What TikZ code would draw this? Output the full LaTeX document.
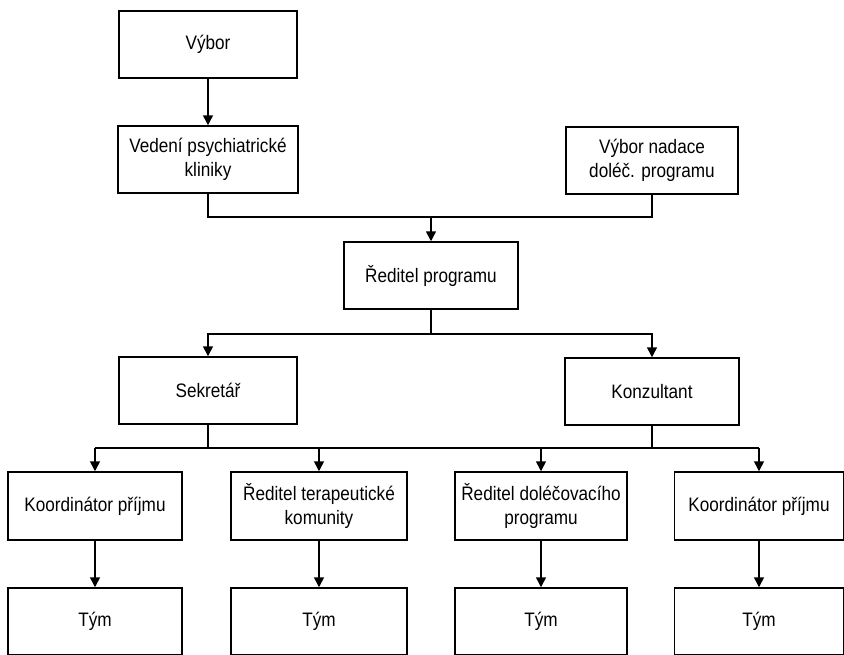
\documentclass[tikz,border=0pt]{standalone}
\usepackage{fontspec}
\setmainfont[FakeStretch=0.88]{Liberation Sans}
\usetikzlibrary{arrows.meta}
\begin{document}
\begin{tikzpicture}[x=1pt,y=-1pt,
  box/.style={draw, line width=1.5pt, minimum height=67pt, inner sep=0pt,
    align=center, font=\fontsize{19.5}{24.5}\selectfont},
  link/.style={line width=1.5pt},
  arr/.style={link, -{Triangle[length=10pt,width=10pt]}}]
\useasboundingbox (0,0) rectangle (844,654);

% top levels
\node[box, minimum width=178pt] (vybor)   at (208,44.5)  {Výbor};
\node[box, minimum width=180pt] (vedeni)  at (208,159.5) {Vedení psychiatrické\\kliniky};
\node[box, minimum width=172pt] (nadace)  at (652,160.5) {Výbor nadace\\doléč. programu};
\node[box, minimum width=174pt] (reditel) at (431,275.5) {Ředitel programu};
\node[box, minimum width=178pt] (sekretar)   at (208,390.5) {Sekretář};
\node[box, minimum width=174pt] (konzultant) at (652,391.5) {Konzultant};

% fourth row
\node[box, minimum width=174pt, minimum height=68pt] (k1) at (95,506)  {Koordinátor příjmu};
\node[box, minimum width=176pt, minimum height=68pt] (rt) at (319,506) {Ředitel terapeutické\\komunity};
\node[box, minimum width=172pt, minimum height=68pt] (rd) at (541,506) {Ředitel doléčovacího\\programu};
\node[box, minimum width=169pt, minimum height=68pt] (k2) at (759,506) {Koordinátor příjmu};

% teams
\node[box, minimum width=174pt] (t1) at (95,621.5)  {Tým};
\node[box, minimum width=176pt] (t2) at (319,621.5) {Tým};
\node[box, minimum width=172pt] (t3) at (541,621.5) {Tým};
\node[box, minimum width=169pt] (t4) at (759,621.5) {Tým};

% junction points
\coordinate (j1) at (431,217);
\coordinate (j2) at (431,334);
\coordinate (j3) at (431,448);

% connectors
\draw[arr] (vybor) -- (vedeni);
\draw[link] (vedeni.south) |- (j1);
\draw[link] (nadace.south) |- (j1);
\draw[arr] (j1) -- (reditel.north);

\draw[link] (reditel.south) -- (j2);
\draw[arr] (j2) -| (sekretar.north);
\draw[arr] (j2) -| (konzultant.north);

\draw[link] (sekretar.south) -- (sekretar.south |- j3);
\draw[link] (konzultant.south) -- (konzultant.south |- j3);
\draw[link] (k1.north |- j3) -- (k2.north |- j3);
\foreach \n in {k1,rt,rd,k2}
  \draw[arr] (\n.north |- j3) -- (\n.north);

\draw[arr] (k1) -- (t1);
\draw[arr] (rt) -- (t2);
\draw[arr] (rd) -- (t3);
\draw[arr] (k2) -- (t4);
\end{tikzpicture}
\end{document}
